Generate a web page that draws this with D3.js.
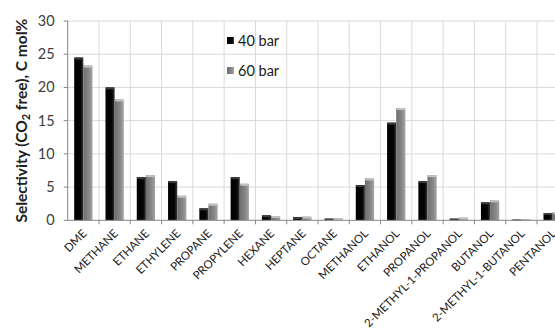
<!DOCTYPE html>
<html><head><meta charset="utf-8">
<script src="https://cdn.jsdelivr.net/npm/d3@7"></script>
<style>body{margin:0;background:#fff;overflow:hidden}svg{display:block}</style>
</head><body>
<script>
const categories = ["DME","METHANE","ETHANE","ETHYLENE","PROPANE","PROPYLENE","HEXANE","HEPTANE","OCTANE","METHANOL","ETHANOL","PROPANOL","2-METHYL-1-PROPANOL","BUTANOL","2-METHYL-1-BUTANOL","PENTANOL"];
const seriesNames = ["40 bar","60 bar"];
const bar40 = [24.5,20.0,6.5,5.9,1.8,6.5,0.75,0.5,0.25,5.3,14.7,5.9,0.25,2.7,0.1,1.1];
const bar60 = [23.3,18.2,6.8,3.7,2.5,5.5,0.65,0.55,0.3,6.3,16.9,6.8,0.4,3.0,0.15,1.2];
const yTicks = [0,5,10,15,20,25,30];

const W=555,H=331;
const m={l:67.7,t:21,r:568.3,b:220.3};
const svg=d3.select("body").append("svg").attr("width",W).attr("height",H);
const defs=svg.append("defs");
const g1=defs.append("linearGradient").attr("id","gBlack").attr("x1",0).attr("x2",1);
g1.append("stop").attr("offset","0%").attr("stop-color","#000");
g1.append("stop").attr("offset","70%").attr("stop-color","#050505");
g1.append("stop").attr("offset","100%").attr("stop-color","#3a3a3a");
const g2=defs.append("linearGradient").attr("id","gGray").attr("x1",0).attr("x2",1);
g2.append("stop").attr("offset","0%").attr("stop-color","#6e6e6e");
g2.append("stop").attr("offset","60%").attr("stop-color","#878787");
g2.append("stop").attr("offset","100%").attr("stop-color","#a5a5a5");

const x=d3.scaleBand().domain(categories).range([m.l,m.r]);
const xs=d3.scaleBand().domain(seriesNames).range([0,x.bandwidth()]).paddingInner(0).paddingOuter(0.71);
const y=d3.scaleLinear().domain([0,30]).range([m.b,m.t]);

// gridlines
const grid=svg.append("g");
grid.selectAll("line.h").data(yTicks.slice(1)).join("line")
 .attr("x1",m.l).attr("x2",m.r).attr("y1",d=>y(d)).attr("y2",d=>y(d))
 .attr("stroke","#d9d9d9").attr("stroke-width",1);
grid.selectAll("line.v").data(categories.slice(1)).join("line")
 .attr("x1",d=>x(d)).attr("x2",d=>x(d)).attr("y1",m.t).attr("y2",m.b)
 .attr("stroke","#d9d9d9").attr("stroke-width",1);

// bars
const data=categories.map((c,i)=>({c,vals:[{s:"40 bar",v:bar40[i]},{s:"60 bar",v:bar60[i]}]}));
const grp=svg.append("g").selectAll("g").data(data).join("g").attr("transform",d=>`translate(${x(d.c)},0)`);
const b=grp.selectAll("g").data(d=>d.vals).join("g");
b.append("rect").attr("x",d=>xs(d.s)).attr("width",xs.bandwidth())
 .attr("y",d=>y(d.v)).attr("height",d=>y(0)-y(d.v))
 .attr("fill",d=>d.s==="40 bar"?"url(#gBlack)":"url(#gGray)");
b.append("rect").attr("x",d=>xs(d.s)+0.5).attr("width",xs.bandwidth()-1)
 .attr("y",d=>y(d.v)).attr("height",d=>Math.min(2,y(0)-y(d.v)))
 .attr("fill",d=>d.s==="40 bar"?"#3c3c3c":"#c4c4c4");

// axes
const ax=svg.append("g");
ax.append("line").attr("x1",m.l).attr("x2",m.r).attr("y1",m.b).attr("y2",m.b).attr("stroke","#868686");
ax.append("line").attr("x1",m.l).attr("x2",m.l).attr("y1",m.t).attr("y2",m.b).attr("stroke","#868686");
ax.selectAll("line.yt").data(yTicks).join("line").attr("x1",m.l-4).attr("x2",m.l).attr("y1",d=>y(d)).attr("y2",d=>y(d)).attr("stroke","#868686");
ax.selectAll("line.xt").data(categories.slice(1)).join("line").attr("x1",d=>x(d)).attr("x2",d=>x(d)).attr("y1",m.b).attr("y2",m.b+4).attr("stroke","#868686");

const font="Lato, 'Open Sans', sans-serif";
svg.append("g").selectAll("text").data(yTicks).join("text")
 .attr("x",m.l-13).attr("y",d=>y(d)+5).attr("text-anchor","end")
 .attr("font-family",font).attr("font-size",14.5).attr("fill","#404040").text(d=>d);

svg.append("g").selectAll("text").data(categories).join("text")
 .attr("transform",d=>`translate(${x(d)+x.bandwidth()/2+4},${m.b+14}) rotate(-45)`)
 .attr("text-anchor","end").attr("font-family",font).attr("font-size",11.5).attr("fill","#202020")
 .text(d=>d);

const t=svg.append("text").attr("transform",`translate(27,${(m.t+m.b)/2}) rotate(-90)`)
 .attr("text-anchor","middle").attr("font-family",font).attr("font-size",15.5).attr("font-weight","bold").attr("fill","#202020");
t.append("tspan").text("Selectivity (CO");
t.append("tspan").attr("font-size",11).attr("dy",3).text("2");
t.append("tspan").attr("dy",-3).text(" free), C mol%");

// legend
const lg=svg.append("g").selectAll("g").data(seriesNames).join("g").attr("transform",(d,i)=>`translate(227,${37+i*30})`);
lg.append("rect").attr("width",7).attr("height",7).attr("fill",(d,i)=>i?"url(#gGray)":"url(#gBlack)");
lg.append("text").attr("x",11).attr("y",9).attr("font-family",font).attr("font-size",14.5).attr("fill","#202020").text(d=>d);
</script>
</body></html>
